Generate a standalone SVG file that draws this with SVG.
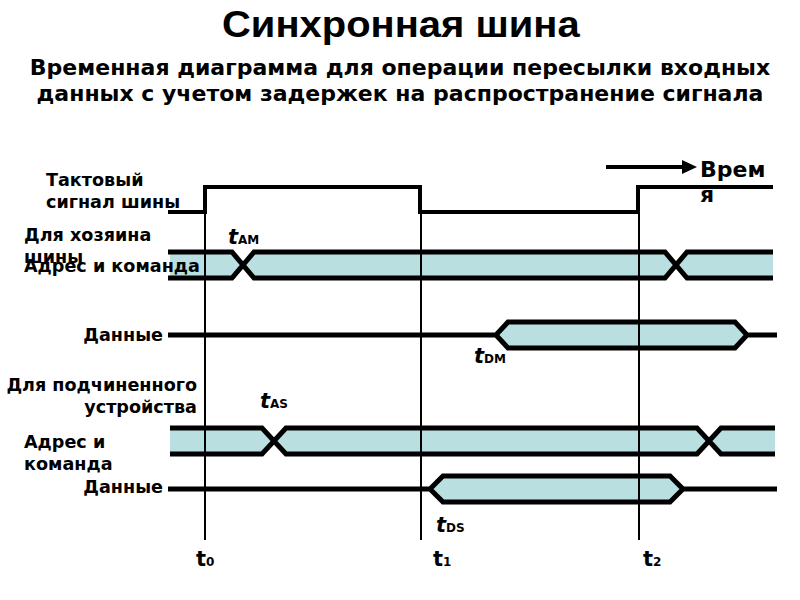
<svg xmlns="http://www.w3.org/2000/svg" width="800" height="600" viewBox="0 0 800 600">
<style>
.title{font-family:"Liberation Sans",Arial,sans-serif;font-weight:bold;font-size:37px;fill:#000}
.sub{font-family:"DejaVu Sans",sans-serif;font-weight:bold;font-size:22px;fill:#000}
.lbl{font-family:"DejaVu Sans",sans-serif;font-weight:bold;font-size:17.6px;fill:#000}
.tm{font-family:"DejaVu Sans",sans-serif;font-weight:bold;font-size:22px;fill:#000}
.tl{font-family:"DejaVu Sans",sans-serif;font-weight:bold;font-size:21px;fill:#000}
.ts{font-family:"DejaVu Sans",sans-serif;font-weight:bold;font-size:12px;fill:#000}
.sig{fill:none;stroke:#000;stroke-width:5;stroke-linejoin:miter}
.clk{fill:none;stroke:#000;stroke-width:4}
.bus{fill:#b9dfe1;stroke:none}
.mark{stroke:#000;stroke-width:2}
</style>
<rect width="800" height="600" fill="#fff"/>
<text class="title" transform="translate(222,37) scale(1.08,1)" x="0" y="0">Синхронная шина</text>
<text class="sub" x="400" y="75" text-anchor="middle">Временная диаграмма для операции пересылки входных</text>
<text class="sub" x="400" y="101" text-anchor="middle">данных с учетом задержек на распространение сигнала</text>

<g id="clock">
<path class="clk" d="M168,212 H205 V187 H420 V212 H638 V187 H773"/>
<text class="lbl" x="46" y="186">Тактовый</text>
<text class="lbl" x="46" y="208">сигнал шины</text>
</g>

<g id="master-addr">
<polygon class="bus" points="170,252 232,252 243,265 232,278 170,278"/>
<polygon class="bus" points="254,252 665,252 676,265 665,278 254,278 243,265"/>
<polygon class="bus" points="687,252 773,252 773,278 687,278 676,265"/>
<path class="sig" d="M168,252 H232 L254,278 H665 L687,252 H773 M168,278 H232 L254,252 H665 L687,278 H773"/>
<text class="lbl" x="24" y="241">Для хозяина</text>
<text class="lbl" x="24" y="263">шины</text>
<text class="lbl" x="24" y="272">Адрес и команда</text>
</g>

<g id="master-data">
<polygon class="bus" points="496,335 508,322 735,322 747,335 735,348 508,348"/>
<path class="sig" d="M168,335 H496 L508,322 H735 L747,335 H777 M496,335 L508,348 H735 L747,335"/>
<text class="lbl" x="163" y="341" text-anchor="end">Данные</text>
</g>

<g id="slave-addr">
<polygon class="bus" points="170,428 262,428 274,441 262,454 170,454"/>
<polygon class="bus" points="286,428 697,428 709,441 697,454 286,454 274,441"/>
<polygon class="bus" points="721,428 775,428 775,454 721,454 709,441"/>
<path class="sig" d="M170,428 H262 L286,454 H697 L721,428 H775 M170,454 H262 L286,428 H697 L721,454 H775"/>
<text class="lbl" x="197" y="391" text-anchor="end">Для подчиненного</text>
<text class="lbl" x="197" y="413" text-anchor="end">устройства</text>
<text class="lbl" x="24" y="448">Адрес и</text>
<text class="lbl" x="24" y="470">команда</text>
</g>

<g id="slave-data">
<polygon class="bus" points="430,489 443,476 670,476 683,489 670,502 443,502"/>
<path class="sig" d="M168,489 H430 L443,476 H670 L683,489 H777 M430,489 L443,502 H670 L683,489"/>
<text class="lbl" x="163" y="493" text-anchor="end">Данные</text>
</g>

<g id="connectors">
<line class="mark" x1="205" y1="214" x2="205" y2="540"/>
<line class="mark" x1="421" y1="214" x2="421" y2="540"/>
<line class="mark" x1="639" y1="189" x2="639" y2="540"/>
<line x1="606" y1="167" x2="686" y2="167" stroke="#000" stroke-width="4"/>
<polygon points="682,160 697,167 682,174" fill="#000"/>
</g>

<g id="time-label">
<text class="tm" x="700" y="177">Врем</text>
<text class="tm" x="700" y="202">я</text>
</g>

<g id="delays">
<text x="228" y="244"><tspan class="tl" font-style="italic">t</tspan><tspan class="ts">AM</tspan></text>
<text x="474" y="363"><tspan class="tl" font-style="italic">t</tspan><tspan class="ts">DM</tspan></text>
<text x="260" y="408"><tspan class="tl" font-style="italic">t</tspan><tspan class="ts">AS</tspan></text>
<text x="436" y="532"><tspan class="tl" font-style="italic">t</tspan><tspan class="ts">DS</tspan></text>
</g>

<g id="ticks">
<text x="196" y="566"><tspan class="tl">t</tspan><tspan class="ts">0</tspan></text>
<text x="433" y="566"><tspan class="tl">t</tspan><tspan class="ts">1</tspan></text>
<text x="643" y="566"><tspan class="tl">t</tspan><tspan class="ts">2</tspan></text>
</g>
</svg>
